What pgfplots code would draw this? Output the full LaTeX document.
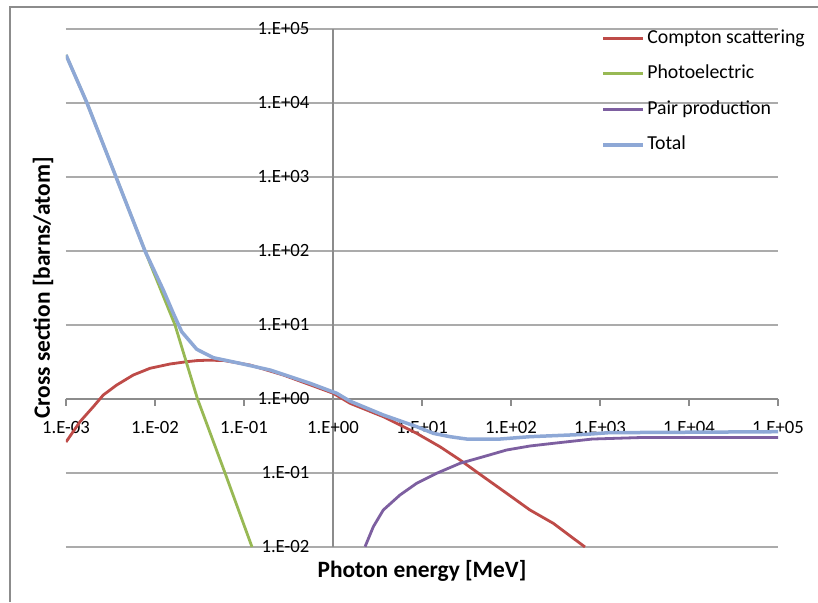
\documentclass[border=0pt]{standalone}
\usepackage{pgfplots}
\pgfplotsset{compat=1.18}
\usepackage{fontspec}
\setmainfont{Carlito}
\definecolor{cred}{HTML}{BE4B48}
\definecolor{cgreen}{HTML}{98B954}
\definecolor{cpurple}{HTML}{7D5FA0}
\definecolor{cblue}{HTML}{8EA8D6}
\definecolor{gridgray}{HTML}{ABABAB}
\definecolor{axgray}{HTML}{8C8C8C}
\begin{document}
\begin{tikzpicture}
\path[use as bounding box] (0,0) rectangle (818pt,602pt);
\fill[white] (0,0) rectangle (818pt,602pt);
\draw[axgray, line width=1.5pt] (10pt,0pt) -- (10pt,595pt) -- (818pt,595pt);
\begin{axis}[
  at={(66pt,55pt)}, anchor=south west,
  scale only axis, width=712pt, height=518pt,
  xmode=log, ymode=log,
  xmin=1e-3, xmax=1e5, ymin=1e-2, ymax=1e5,
  axis lines=middle,
  axis line style={-, axgray, line width=1.2pt},
  xtick={1e-3,1e-2,1e-1,1,1e1,1e2,1e3,1e4,1e5},
  xticklabels={1.E-03,1.E-02,1.E-01,1.E+00,1.E+01,1.E+02,1.E+03,1.E+04,1.E+05},
  ytick={1e-2,1e-1,1,1e1,1e2,1e3,1e4,1e5},
  yticklabels={1.E-02,1.E-01,1.E+00,1.E+01,1.E+02,1.E+03,1.E+04,1.E+05},
  xminorticks=false, yminorticks=false,
  hide obscured x ticks=false, hide obscured y ticks=false,
  tick align=center, major tick length=7pt,
  x tick style={axgray, line width=1.2pt, yshift=-3.5pt},
  y tick style={draw=none},
  ymajorgrids, grid style={gridgray, line width=1.2pt},
  tick label style={font=\fontsize{18.7}{20}\selectfont, text=black},
  xticklabel style={anchor=center, yshift=-25pt, inner sep=0pt},
  yticklabel style={anchor=east, xshift=-20pt, inner sep=0pt},
  every axis x label/.style={at={(axis description cs:0.5,-0.0598)}, anchor=base, font=\fontsize{23.4}{26}\selectfont\bfseries},
  every axis y label/.style={at={(axis description cs:-0.0225,0.5)}, anchor=base, rotate=90, font=\fontsize{23.4}{26}\selectfont\bfseries},
  xlabel={Photon energy [MeV]},
  ylabel={Cross section [barns/atom]},
  legend style={draw=none, fill=none, at={(0.7515,1.0)}, anchor=north west,
    font=\fontsize{19.8}{21}\selectfont, row sep=17.6pt, inner sep=0pt,
    nodes={inner xsep=2.5pt, inner ysep=0pt, text height=14pt, text depth=4pt}},
  legend cell align=left,
  legend image code/.code={\draw[#1] (0pt,0pt) -- (40pt,0pt);},
  clip=true,
]
\addplot[cred, line width=2.8pt] coordinates {
(0.001,0.262) (1.436e-3,0.4932) (2.028e-3,0.787) (2.624e-3,1.132) (3.715e-3,1.545)
(5.702e-3,2.109) (8.790e-3,2.600) (0.01476,2.972) (0.02270,3.192) (0.02944,3.30)
(0.03811,3.34) (0.05848,3.32) (0.1167,2.877) (0.2767,2.109)
(1.007,1.194) (1.552,0.8750) (3.673,0.5768) (8.710,0.3436) (15.92,0.2265)
(26.73,0.1500) (48.87,0.08913) (89.33,0.05321) (163.3,0.03162) (298.5,0.02089) (677.5,0.01)
};
\addlegendentry{Compton scattering}
\addplot[cgreen, line width=2.8pt] coordinates {
(0.001,44570) (1.722e-3,1e4) (3.648e-3,1000) (7.727e-3,100) (0.01679,10)
(0.03006,1) (0.06124,0.1) (0.1230,0.01)
};
\addlegendentry{Photoelectric}
\addplot[cpurple, line width=2.8pt] coordinates {
(2.291,0.01009) (2.838,0.01879) (3.673,0.03162) (5.662,0.05047) (8.710,0.07261)
(14.62,0.09908) (26.73,0.1352) (48.87,0.1660) (89.33,0.2046) (163.3,0.2317)
(298.5,0.2518) (818.5,0.2877) (2985,0.3020) (10890,0.3020) (1e5,0.3020)
};
\addlegendentry{Pair production}
\addplot[cblue, line width=3.5pt] coordinates {
(0.001,44570) (1.722e-3,1e4) (3.648e-3,1000) (7.727e-3,100) (0.01239,29.72)
(0.01607,14.39) (0.01995,8.110) (0.02944,4.699) (0.04519,3.614) (0.09016,3.034)
(0.1959,2.466) (0.5521,1.629) (1.102,1.194) (1.552,0.935) (3.673,0.6081)
(8.710,0.4227) (13.40,0.3436) (20.65,0.3097) (31.77,0.2877) (75.16,0.2877)
(163.3,0.3097) (707.9,0.3334) (1262,0.3508) (7079,0.3548) (1e5,0.3614)
};
\addlegendentry{Total}
\end{axis}
\end{tikzpicture}
\end{document}
